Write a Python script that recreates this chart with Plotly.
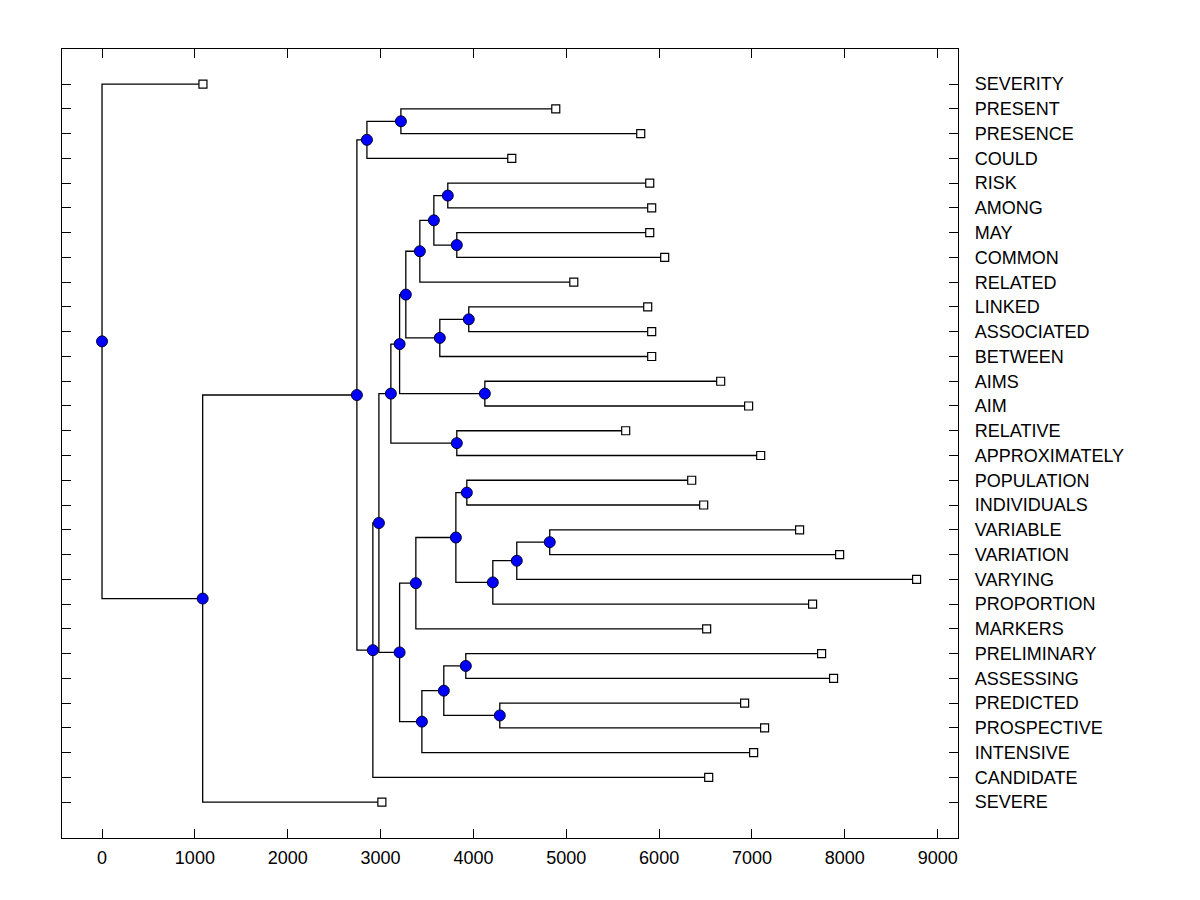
import plotly.graph_objects as go

# leaves, top to bottom
labels = [
    "SEVERITY", "PRESENT", "PRESENCE", "COULD", "RISK", "AMONG", "MAY",
    "COMMON", "RELATED", "LINKED", "ASSOCIATED", "BETWEEN", "AIMS", "AIM",
    "RELATIVE", "APPROXIMATELY", "POPULATION", "INDIVIDUALS", "VARIABLE",
    "VARIATION", "VARYING", "PROPORTION", "MARKERS", "PRELIMINARY",
    "ASSESSING", "PREDICTED", "PROSPECTIVE", "INTENSIVE", "CANDIDATE", "SEVERE",
]
leaf_dist = [
    1087, 4887, 5802, 4413, 5899, 5920, 5899, 6060, 5081, 5877, 5920, 5920,
    6663, 6964, 5640, 7094, 6351, 6480, 7513, 7944, 8773, 7653, 6512, 7750,
    7879, 6921, 7136, 7018, 6534, 3014,
]

# merges: node 30+k joins merge_a[k] and merge_b[k] at merge_dist[k]
merge_a = [1, 30, 4, 6, 32, 34, 9, 36, 35, 12, 38, 14, 40, 16, 18, 44, 45,
           43, 47, 23, 25, 49, 51, 48, 42, 54, 31, 56, 0]
merge_b = [2, 3, 5, 7, 33, 8, 10, 11, 37, 13, 39, 15, 41, 17, 19, 20, 21,
           46, 22, 24, 26, 50, 27, 52, 53, 28, 55, 29, 57]
merge_dist = [3219, 2853, 3724, 3821, 3574, 3423, 3950, 3638, 3272, 4123,
              3205, 3821, 3111, 3929, 4822, 4467, 4209, 3811, 3380, 3918,
              4284, 3681, 3445, 3205, 2982, 2917, 2745, 1084, 0]

xpos = list(leaf_dist)
ypos = list(range(len(labels)))
for a, b, d in zip(merge_a, merge_b, merge_dist):
    xpos.append(d)
    ypos.append((ypos[a] + ypos[b]) / 2)

lx, ly = [], []
n = len(labels)
for k, (a, b) in enumerate(zip(merge_a, merge_b)):
    x = xpos[n + k]
    lx += [xpos[a], x, x, xpos[b], None]
    ly += [ypos[a], ypos[a], ypos[b], ypos[b], None]

fig = go.Figure()
fig.add_trace(go.Scatter(x=lx, y=ly, mode="lines",
                         line=dict(color="black", width=1.3), hoverinfo="skip"))
fig.add_trace(go.Scatter(
    x=xpos[n:], y=ypos[n:], mode="markers",
    marker=dict(symbol="circle", size=11, color="#0000ff",
                line=dict(color="#000033", width=1)),
))
fig.add_trace(go.Scatter(
    x=leaf_dist, y=ypos[:n], mode="markers", text=labels,
    marker=dict(symbol="square", size=8, color="white",
                line=dict(color="black", width=1.2)),
))

font = dict(family="Liberation Sans, Arial, sans-serif", size=18, color="black")
# page body adds ~8px offset, margins compensate
fig.update_layout(
    width=1200, height=900,
    margin=dict(l=54, r=250, t=41, b=70),
    plot_bgcolor="white", paper_bgcolor="white",
    showlegend=False, font=font,
)
fig.update_xaxes(
    range=[-431, 9219], tickvals=list(range(0, 9001, 1000)),
    ticks="inside", ticklen=9, tickcolor="black", showline=True,
    linecolor="black", linewidth=1.3, mirror="ticks", showgrid=False,
    zeroline=False, tickfont=font, ticklabelstandoff=3,
)
fig.update_yaxes(
    range=[n - 1 + 1.45, -1.42], tickvals=list(range(n)), ticktext=labels,
    side="right", ticks="inside", ticklen=9, tickcolor="black",
    showline=True, linecolor="black", linewidth=1.3, mirror="ticks",
    showgrid=False, zeroline=False, tickfont=font, ticklabelstandoff=12,
)
fig.write_html("out.html")
